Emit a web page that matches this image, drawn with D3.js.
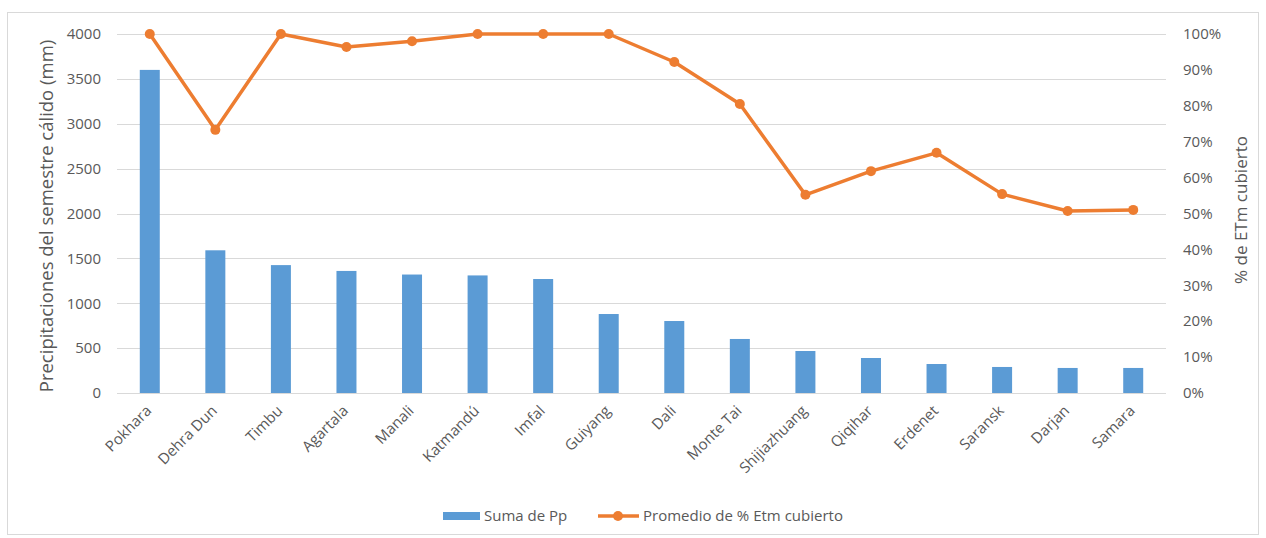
<!DOCTYPE html>
<html>
<head>
<meta charset="utf-8">
<script src="https://cdn.jsdelivr.net/npm/d3@7"></script>
<style>
  body { margin: 0; background: #fff; }
  text { font-family: "Open Sans", "Liberation Sans", sans-serif; fill: #595959; }
</style>
</head>
<body>
<div id="chart"></div>
<script>
// data
const cities = ["Pokhara", "Dehra Dun", "Timbu", "Agartala", "Manali", "Katmandú", "Imfal", "Guiyang",
  "Dali", "Monte Tai", "Shijiazhuang", "Qiqihar", "Erdenet", "Saransk", "Darjan", "Samara"];
const sumaPp = [3600, 1590, 1425, 1360, 1320, 1310, 1270, 880, 802, 602, 468, 390, 323, 290, 279, 279];
const pctEtm = [100, 73.3, 100, 96.4, 98.0, 100, 100, 100, 92.2, 80.5, 55.2, 61.8, 66.9, 55.4, 50.7, 51.0];
const leftTicks = [0, 500, 1000, 1500, 2000, 2500, 3000, 3500, 4000];
const rightTicks = [0, 10, 20, 30, 40, 50, 60, 70, 80, 90, 100];

const width = 1266, height = 538;
const blue = "#5B9BD5", orange = "#ED7D31";
const plotLeft = 117, plotRight = 1166, plotTop = 34, plotBottom = 393;

const svg = d3.select("#chart")
  .append("svg")
  .attr("width", width)
  .attr("height", height);

// outer chart border
svg.append("rect")
  .attr("x", 7.5).attr("y", 12.5)
  .attr("width", 1251).attr("height", 522)
  .attr("fill", "none")
  .attr("stroke", "#d9d9d9");

const x = d3.scaleBand().domain(cities).range([plotLeft, plotRight]);
const yL = d3.scaleLinear().domain([0, 4000]).range([plotBottom, plotTop]);
const yR = d3.scaleLinear().domain([0, 100]).range([plotBottom, plotTop]);

// gridlines
svg.append("g")
  .selectAll("line")
  .data(leftTicks)
  .enter()
  .append("line")
  .attr("x1", plotLeft).attr("x2", plotRight)
  .attr("y1", d => Math.round(yL(d)) + 0.5)
  .attr("y2", d => Math.round(yL(d)) + 0.5)
  .attr("stroke", "#d9d9d9")
  .attr("stroke-width", 1);

// left axis labels
svg.append("g")
  .selectAll("text")
  .data(leftTicks)
  .enter()
  .append("text")
  .attr("x", 101)
  .attr("y", d => yL(d))
  .attr("dy", "0.35em")
  .attr("text-anchor", "end")
  .style("font-size", "15px")
  .text(d => d);

// right axis labels
svg.append("g")
  .selectAll("text")
  .data(rightTicks)
  .enter()
  .append("text")
  .attr("x", 1183)
  .attr("y", d => yR(d))
  .attr("dy", "0.35em")
  .style("font-size", "15px")
  .text(d => d + "%");

// axis titles
svg.append("text")
  .attr("transform", "translate(53, 216) rotate(-90)")
  .attr("text-anchor", "middle")
  .style("font-size", "18.5px")
  .text("Precipitaciones del semestre cálido (mm)");

svg.append("text")
  .attr("transform", "translate(1247, 210) rotate(-90)")
  .attr("text-anchor", "middle")
  .style("font-size", "17px")
  .text("% de ETm cubierto");

// bars
svg.append("g")
  .selectAll("rect")
  .data(cities)
  .enter()
  .append("rect")
  .attr("x", d => x(d) + x.bandwidth() / 2 - 10)
  .attr("width", 20)
  .attr("y", (d, i) => yL(sumaPp[i]))
  .attr("height", (d, i) => plotBottom - yL(sumaPp[i]))
  .attr("fill", blue);

// x axis baseline
svg.append("line")
  .attr("x1", plotLeft).attr("x2", plotRight)
  .attr("y1", plotBottom + 0.5).attr("y2", plotBottom + 0.5)
  .attr("stroke", "#d9d9d9");

// category labels
svg.append("g")
  .selectAll("text")
  .data(cities)
  .enter()
  .append("text")
  .attr("transform", d => `translate(${x(d) + x.bandwidth() / 2 - 1}, ${plotBottom + 15}) rotate(-45)`)
  .attr("text-anchor", "end")
  .attr("dy", "0.35em")
  .style("font-size", "15px")
  .text(d => d);

// line series
const line = d3.line()
  .x((d, i) => x(cities[i]) + x.bandwidth() / 2)
  .y(d => yR(d));

svg.append("path")
  .datum(pctEtm)
  .attr("d", line)
  .attr("fill", "none")
  .attr("stroke", orange)
  .attr("stroke-width", 3.5)
  .attr("stroke-linejoin", "round");

svg.append("g")
  .selectAll("circle")
  .data(pctEtm)
  .enter()
  .append("circle")
  .attr("cx", (d, i) => x(cities[i]) + x.bandwidth() / 2)
  .attr("cy", d => yR(d))
  .attr("r", 5)
  .attr("fill", orange);

// legend
const legend = svg.append("g");
legend.append("rect")
  .attr("x", 443).attr("y", 512)
  .attr("width", 37).attr("height", 8)
  .attr("fill", blue);
legend.append("text")
  .attr("x", 484).attr("y", 516)
  .attr("dy", "0.35em")
  .style("font-size", "15px")
  .text("Suma de Pp");
legend.append("line")
  .attr("x1", 598).attr("x2", 639)
  .attr("y1", 516).attr("y2", 516)
  .attr("stroke", orange)
  .attr("stroke-width", 3.5);
legend.append("circle")
  .attr("cx", 618).attr("cy", 516)
  .attr("r", 5)
  .attr("fill", orange);
legend.append("text")
  .attr("x", 643).attr("y", 516)
  .attr("dy", "0.35em")
  .style("font-size", "15px")
  .text("Promedio de % Etm cubierto");
</script>
</body>
</html>
